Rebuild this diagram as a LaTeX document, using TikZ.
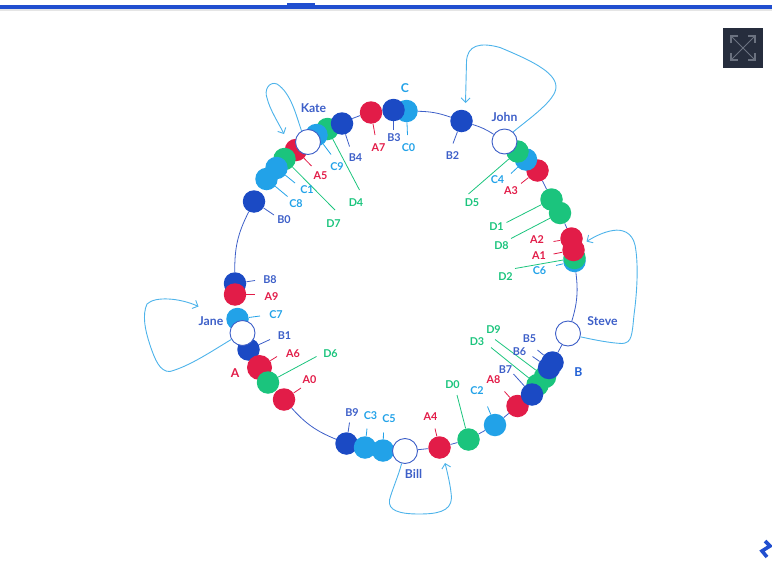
\documentclass[tikz,border=0pt]{standalone}
\usepackage{fontspec}
\setmainfont{Lato}
\usetikzlibrary{arrows.meta}
\pgfdeclarelayer{bg}
\pgfsetlayers{bg,main}
\definecolor{ared}{HTML}{E21C48}
\definecolor{bblue}{HTML}{1B4AC4}
\definecolor{cblue}{HTML}{22A2E8}
\definecolor{dgreen}{HTML}{1BC47D}
\definecolor{ringblue}{HTML}{3D5FC8}
\definecolor{loopblue}{HTML}{4DB3EA}
\definecolor{barblue}{HTML}{204ECF}
\definecolor{boxdark}{HTML}{262D3D}
\definecolor{boxgrey}{HTML}{6B7280}
\tikzset{
	disc/.style		= {circle, inner sep=0pt, minimum size=22.5pt},
	adisc/.style	= {disc, fill=ared},
	bdisc/.style	= {disc, fill=bblue},
	cdisc/.style	= {disc, fill=cblue},
	ddisc/.style	= {disc, fill=dgreen},
	server/.style	= {circle, inner sep=0pt, minimum size=25pt, fill=white, draw=ringblue, line width=0.9pt},
	lab/.style		= {inner sep=0pt, font=\fontsize{10.8}{12}\selectfont\bfseries},
	alab/.style		= {lab, text=ared},
	blab/.style		= {lab, text=ringblue},
	clab/.style		= {lab, text=cblue},
	dlab/.style		= {lab, text=dgreen},
	biglab/.style	= {inner sep=0pt, font=\fontsize{12.2}{14}\selectfont\bfseries},
	ring/.style		= {draw=ringblue, line width=0.8pt},
	atick/.style	= {draw=ared, line width=0.8pt},
	btick/.style	= {draw=ringblue, line width=0.8pt},
	ctick/.style	= {draw=cblue, line width=0.8pt},
	dtick/.style	= {draw=dgreen, line width=0.8pt},
	loopback/.style	= {draw=loopblue, line width=0.9pt, -{Straight Barb[length=4.5pt,width=9pt]}},
}
\begin{document}
\begin{tikzpicture}[x=1pt, y=-1pt]
	\useasboundingbox (0,0) rectangle (772,570);

	% top bar, button, logo
	\fill[black!10] (0,9) rectangle (772,11);
	\fill[barblue] (0,5) rectangle (772,9);
	\fill[barblue] (287,3) rectangle (315,5);
	\fill[boxdark] (723,28) rectangle (763,68);
	\draw[boxgrey, line width=1pt] (731,36) -- (755,60) (755,36) -- (731,60);
	\draw[boxgrey, line width=1.6pt] (731,43) -- (731,36) -- (738,36) (748,36) -- (755,36) -- (755,43)
		(731,53) -- (731,60) -- (738,60) (748,60) -- (755,60) -- (755,53);
	\draw[barblue, line width=3.6pt] (765,541) -- (770,546) -- (762,551) -- (767,557);

	% keys on the left, from the top
	\node[adisc] (A5) at (296,150) {};
	\node[ddisc] (D7) at (284.5,159) {};
	\node[bdisc] (B0) at (254,201.5) {};
	\node[cdisc] (C8) at (266.5,179) {};
	\node[cdisc] (C1) at (276.5,168) {};
	\node[ddisc] (D4) at (327.5,129) {};
	\node[cdisc] (C9) at (316.5,135) {};
	\node[bdisc] (B4) at (342,123.5) {};
	\node[adisc] (A7) at (371,112.5) {};
	\node[cdisc] (C0) at (406.5,111) {};
	\node[bdisc] (B3) at (393.5,110) {};
	\node[bdisc] (B2) at (461.5,121) {};
	\node[adisc] (A3) at (537.5,170.5) {};
	\node[cdisc] (C4) at (526,159.5) {};
	\node[ddisc] (D5) at (517.5,151.5) {};
	\node[ddisc] (D1) at (551.5,199.5) {};
	\node[ddisc] (D8) at (560,213) {};
	\node[cdisc] (C6) at (574.5,261) {};
	\node[ddisc] (D2) at (574.5,258) {};
	\node[adisc] (A2) at (571.5,238.5) {};
	\node[adisc] (A1) at (573.5,250) {};
	\node[ddisc] (D9) at (545,377) {};
	\node[ddisc] (D3) at (537.5,385) {};
	\node[bdisc] (B5) at (552.5,362.5) {};
	\node[bdisc] (B6) at (549,368) {};
	\node[adisc] (A8) at (517.5,406) {};
	\node[bdisc] (B7) at (532,394.5) {};
	\node[cdisc] (C2) at (495,425) {};
	\node[ddisc] (D0) at (468.5,439.5) {};
	\node[adisc] (A4) at (439.5,447.5) {};
	\node[bdisc] (B9) at (346.5,443.5) {};
	\node[cdisc] (C3) at (365,447.5) {};
	\node[cdisc] (C5) at (383,450.5) {};
	\node[bdisc] (B8) at (235,283.5) {};
	\node[adisc] (A9) at (235,294.5) {};
	\node[cdisc] (C7) at (237.5,319) {};
	\node[bdisc] (B1) at (248.5,349.5) {};
	\node[adisc, minimum size=25pt] (A6) at (259.5,367.5) {};
	\node[adisc] (A0) at (284,399.5) {};
	\node[ddisc] (D6) at (268,382.5) {};

	% servers
	\node[server] (Kate) at (308,142) {};
	\node[server] (John) at (504.5,141.5) {};
	\node[server] (Steve) at (568,333.5) {};
	\node[server] (Bill) at (405,451) {};
	\node[server] (Jane) at (242.5,333) {};

	\node[biglab, text=ringblue] (KateName) at (313.5,108.5) {Kate};
	\node[biglab, text=ringblue] (JohnName) at (504.5,117.5) {John};
	\node[biglab, text=ringblue] (SteveName) at (602.5,321.5) {Steve};
	\node[biglab, text=ringblue] (BillName) at (413.5,474) {Bill};
	\node[biglab, text=ringblue] (JaneName) at (211,321.5) {Jane};

	\node[biglab, text=ared] (AName) at (235,373.5) {A};
	\node[biglab, text=barblue!80!cblue] (BName) at (578.5,372.5) {B};
	\node[biglab, text=cblue] (CName) at (405,88) {C};

	% labels
	\node[alab] (A0l) at (309.5,380) {A0};
	\node[alab] (A1l) at (539,255.5) {A1};
	\node[alab] (A2l) at (537,240) {A2};
	\node[alab] (A3l) at (511,190.5) {A3};
	\node[alab] (A4l) at (430.5,417) {A4};
	\node[alab] (A5l) at (320.5,176) {A5};
	\node[alab] (A6l) at (293,353.5) {A6};
	\node[alab] (A7l) at (378.5,148) {A7};
	\node[alab] (A8l) at (493.5,379.5) {A8};
	\node[alab] (A9l) at (271.5,296.5) {A9};

	\node[blab] (B0l) at (284,220) {B0};
	\node[blab] (B1l) at (284.5,336) {B1};
	\node[blab] (B2l) at (452.5,156) {B2};
	\node[blab] (B3l) at (394,137.5) {B3};
	\node[blab] (B4l) at (355.5,157.5) {B4};
	\node[blab] (B5l) at (529.5,338.5) {B5};
	\node[blab] (B6l) at (519.5,351.5) {B6};
	\node[blab] (B7l) at (505.5,369.5) {B7};
	\node[blab] (B8l) at (270,279.5) {B8};
	\node[blab] (B9l) at (352,413) {B9};

	\node[clab] (C0l) at (408.5,147.5) {C0};
	\node[clab] (C1l) at (307,190) {C1};
	\node[clab] (C2l) at (477,391) {C2};
	\node[clab] (C3l) at (370.5,415.5) {C3};
	\node[clab] (C4l) at (497.5,180) {C4};
	\node[clab] (C5l) at (389,419) {C5};
	\node[clab] (C6l) at (539.5,271) {C6};
	\node[clab] (C7l) at (276,315) {C7};
	\node[clab] (C8l) at (296,203.5) {C8};
	\node[clab] (C9l) at (337,166.5) {C9};

	\node[dlab] (D0l) at (452.5,385) {D0};
	\node[dlab] (D1l) at (496.5,226.5) {D1};
	\node[dlab] (D2l) at (505.5,277) {D2};
	\node[dlab] (D3l) at (477,341.5) {D3};
	\node[dlab] (D4l) at (356,202.5) {D4};
	\node[dlab] (D5l) at (472,202.5) {D5};
	\node[dlab] (D6l) at (330.5,353.5) {D6};
	\node[dlab] (D7l) at (333.5,223.5) {D7};
	\node[dlab] (D8l) at (501.5,246) {D8};
	\node[dlab] (D9l) at (493.5,330) {D9};

	% tick ends
	\coordinate (A0t) at (301,388);
	\coordinate (A1t) at (553.5,254);
	\coordinate (A2t) at (553.5,241.5);
	\coordinate (A3t) at (521,183.5);
	\coordinate (A4t) at (435,428.5);
	\coordinate (A5t) at (311.5,166);
	\coordinate (A6t) at (277,356.5);
	\coordinate (A7t) at (375,135);
	\coordinate (A8t) at (504.5,391.5);
	\coordinate (A9t) at (255,294.5);
	\coordinate (B0t) at (274,215);
	\coordinate (B1t) at (270,339.5);
	\coordinate (B2t) at (453,143.5);
	\coordinate (B3t) at (393.5,129.5);
	\coordinate (B4t) at (349.5,146.5);
	\coordinate (B5t) at (537.5,350);
	\coordinate (B6t) at (532.5,356.5);
	\coordinate (B7t) at (513.5,374);
	\coordinate (B8t) at (255,280.5);
	\coordinate (B9t) at (349.5,422.5);
	\coordinate (C0t) at (407.5,135);
	\coordinate (C1t) at (295,183);
	\coordinate (C2t) at (487.5,406.5);
	\coordinate (C3t) at (367,428.5);
	\coordinate (C4t) at (511,173.5);
	\coordinate (C5t) at (383.5,432.5);
	\coordinate (C6t) at (556,265.5);
	\coordinate (C7t) at (260,316);
	\coordinate (C8t) at (287.5,196.5);
	\coordinate (C9t) at (331,154.5);
	\coordinate (D0t) at (457,395);
	\coordinate (D1t) at (506.5,222.5);
	\coordinate (D2t) at (515,268.5);
	\coordinate (D3t) at (491,347.5);
	\coordinate (D4t) at (359.5,190);
	\coordinate (D5t) at (468.5,194);
	\coordinate (D6t) at (316.5,356.5);
	\coordinate (D7t) at (335,210);
	\coordinate (D8t) at (511,238.5);
	\coordinate (D9t) at (495,339.5);

	% loop ends
	\coordinate (KateEnd) at (284,134);
	\coordinate (JohnEnd) at (465.5,103);
	\coordinate (SteveEnd) at (586.5,241.5);
	\coordinate (BillEnd) at (445,463);
	\coordinate (JaneEnd) at (198.5,306.5);

	\begin{pgfonlayer}{bg}
		% ring
		\path[ring]
		(B0) edge [bend right=14]	(B8)
		(A0) edge [bend right=13]	(B9)
		(A7) edge [bend right=5]	(B4)
		(B2) edge [bend right=9]	(C0)
		(John) edge [bend right=8]	(B2)
		(A3) edge					(D1)
		(D8) edge					(A2)
		(Steve) edge [bend right=12] (C6)
		(Steve) edge				(B5)
		(A8) edge					(C2)
		(C2) edge					(D0)
		(D0) edge					(A4)
		(A4) edge					(Bill)
		;
		% ticks
		\path[atick]
		(A0) edge (A0t) (A1) edge (A1t) (A2) edge (A2t) (A3) edge (A3t) (A4) edge (A4t)
		(A5) edge (A5t) (A6) edge (A6t) (A7) edge (A7t) (A8) edge (A8t) (A9) edge (A9t);
		\path[btick]
		(B0) edge (B0t) (B1) edge (B1t) (B2) edge (B2t) (B3) edge (B3t) (B4) edge (B4t)
		(B5) edge (B5t) (B6) edge (B6t) (B7) edge (B7t) (B8) edge (B8t) (B9) edge (B9t);
		\path[ctick]
		(C0) edge (C0t) (C1) edge (C1t) (C2) edge (C2t) (C3) edge (C3t) (C4) edge (C4t)
		(C5) edge (C5t) (C6) edge (C6t) (C7) edge (C7t) (C8) edge (C8t) (C9) edge (C9t);
		\path[dtick]
		(D0) edge (D0t) (D1) edge (D1t) (D2) edge (D2t) (D3) edge (D3t) (D4) edge (D4t)
		(D5) edge (D5t) (D6) edge (D6t) (D7) edge (D7t) (D8) edge (D8t) (D9) edge (D9t);
	\end{pgfonlayer}

	% loops
	\draw[loopback] (Kate.120) .. controls (296,115) and (291,93) .. (277,84)
		.. controls (269,81) and (264,90) .. (267,98) .. controls (270,110) and (278,122) .. (KateEnd);
	\draw[loopback] (John.48) .. controls (530,118) and (556,100) .. (556,87)
		.. controls (556,72) and (530,60) .. (500,47.5) .. controls (480,42) and (467,45) .. (466.5,62)
		-- (JohnEnd);
	\draw[loopback] (Steve.-15) .. controls (595,340) and (610,343) .. (622,343.5)
		.. controls (632,343) and (632,335) .. (634,315) .. controls (638,285) and (638,260) .. (635,245)
		.. controls (632,232) and (622,229) .. (613,230.5) .. controls (603,232) and (594,237) .. (SteveEnd);
	\draw[loopback] (Bill.-105) .. controls (398,477) and (392,490) .. (389.5,500)
		.. controls (388,510) and (398,514) .. (419,514) .. controls (436,514) and (451,512) .. (451.5,498)
		.. controls (451,488) and (448,475) .. (BillEnd);
	\draw[loopback] (Jane.210) .. controls (212,351) and (190,366) .. (170,371.5)
		.. controls (160,372) and (155,360) .. (150,345) .. controls (145,330) and (142,315) .. (147,304)
		.. controls (155,296) and (180,298) .. (JaneEnd);
\end{tikzpicture}
\end{document}
